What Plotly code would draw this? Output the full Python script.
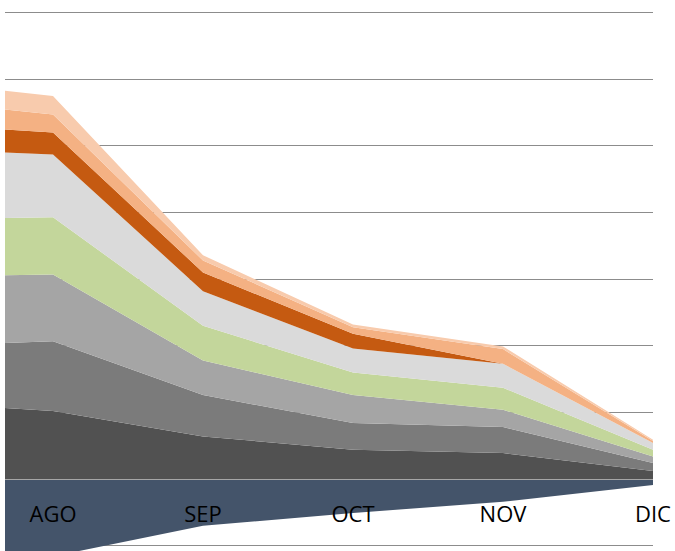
import plotly.graph_objects as go

# Categories (JUL lies just outside the visible range, only its slope into AGO is seen)
months = ["JUL", "AGO", "SEP", "OCT", "NOV", "DIC"]

# Stacked series, bottom to top
serie_1 = [58, 51, 32, 22, 19.5, 6]      # dark grey
serie_2 = [41, 52.5, 31, 20, 19.5, 6]    # grey
serie_3 = [52.5, 50, 26, 21, 13, 5]      # light grey
serie_4 = [43, 43, 26, 17, 16.5, 5]      # green
serie_5 = [54, 47, 26, 18, 18, 5]        # pale grey
serie_6 = [19, 16.5, 14, 11, 0, 0]       # dark orange
serie_7 = [18, 13.5, 9, 5, 11, 1.5]      # orange
serie_8 = [14, 14, 4, 2, 2, 1]           # peach
negativo = [-62, -58, -35, -25.5, -17, -4.5]  # dark blue, below zero

series = [
    (serie_1, "#515151"),
    (serie_2, "#7b7b7b"),
    (serie_3, "#a5a5a5"),
    (serie_4, "#c3d69b"),
    (serie_5, "#dadada"),
    (serie_6, "#c55a11"),
    (serie_7, "#f4b183"),
    (serie_8, "#f8cbad"),
]

x_idx = list(range(len(months)))

fig = go.Figure()
fig.add_trace(go.Scatter(
    x=x_idx, y=negativo, mode="lines", stackgroup="neg",
    line=dict(width=0), fillcolor="#44546a", showlegend=False, hoverinfo="skip"))
for vals, col in series:
    fig.add_trace(go.Scatter(
        x=x_idx, y=vals, mode="lines", stackgroup="pos",
        line=dict(width=0), fillcolor=col, showlegend=False, hoverinfo="skip"))

y_min, y_max = -54, 359.5
zero_pos = (0 - y_min) / (y_max - y_min)

fig.update_layout(
    width=675, height=551,
    margin=dict(l=5, r=22, t=0, b=0),
    paper_bgcolor="white", plot_bgcolor="white",
    font=dict(family="Open Sans, sans-serif", size=22, color="#000000"),
    xaxis=dict(
        range=[0.68, 5], tickmode="array", tickvals=x_idx, ticktext=months,
        showgrid=False, zeroline=False, showline=True, linecolor="#a6a6a6",
        linewidth=1, anchor="free", position=zero_pos, ticks="",
        ticklabelstandoff=16, layer="above traces",
    ),
    yaxis=dict(
        range=[y_min, y_max], dtick=50, tick0=0, showgrid=True,
        gridcolor="#8c8c8c", gridwidth=1, zeroline=False,
        showticklabels=False, showline=False,
    ),
)

fig.write_html(
    "out.html",
    config={"displayModeBar": False},
    post_script="document.body.style.margin='0';document.body.style.padding='0';",
)
